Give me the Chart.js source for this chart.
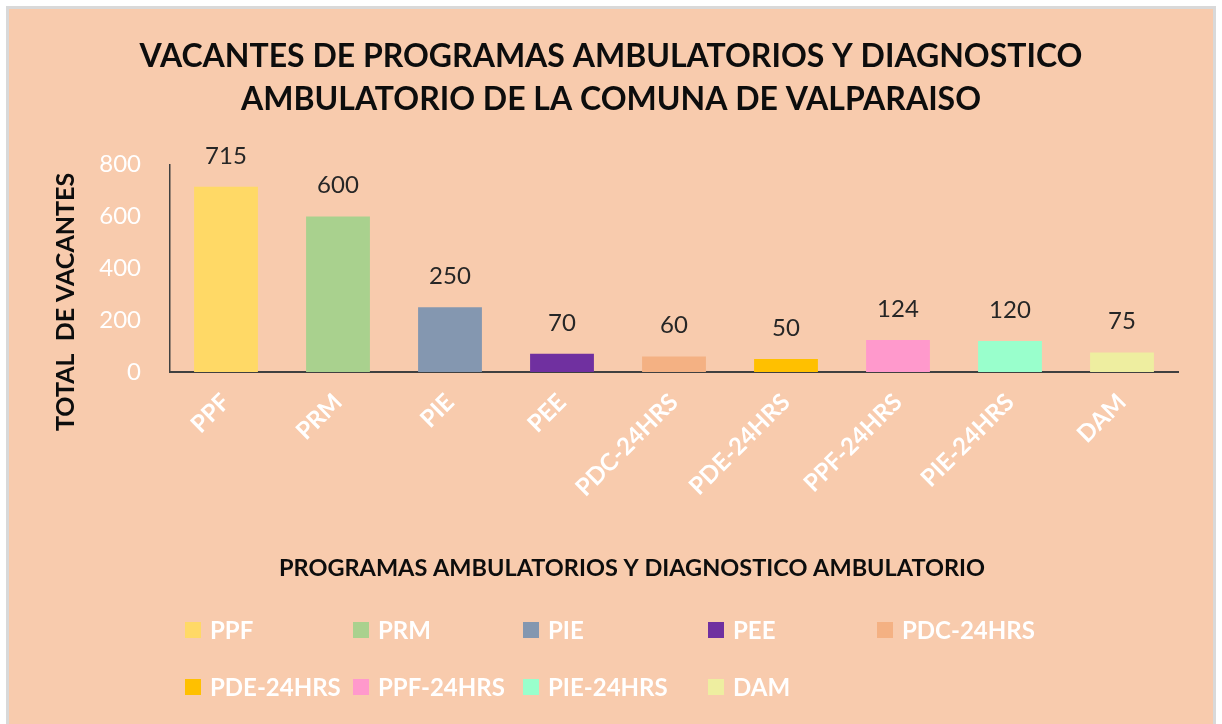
<!DOCTYPE html>
<html>
<head>
<meta charset="utf-8">
<script src="https://cdn.jsdelivr.net/npm/chart.js@4/dist/chart.umd.min.js"></script>
<style>
  body { margin: 0; background: #fff; }
  #frame {
    position: absolute; left: 6px; top: 6px; width: 1204px; height: 730px;
    background: #F8CBAD; border: 3px solid #D9D9D9;
  }
  #wrap { position: absolute; left: 0; top: 0; width: 1222px; height: 724px; }
</style>
</head>
<body>
<div id="frame"></div>
<div id="wrap"><canvas id="chartCanvas" width="1222" height="724"></canvas></div>
<script>
const categories = ['PPF', 'PRM', 'PIE', 'PEE', 'PDC-24HRS', 'PDE-24HRS', 'PPF-24HRS', 'PIE-24HRS', 'DAM'];
const vacantes = [715, 600, 250, 70, 60, 50, 124, 120, 75];
const barColors = ['#FFD966', '#A9D18E', '#8497B0', '#7030A0', '#F4B183', '#FFC000', '#FF99CC', '#99FFCC', '#EEEEA0'];
const yTicks = [0, 200, 400, 600, 800];
const legendCols = [185, 353, 523, 708, 877];

Chart.defaults.font.family = 'Lato';

// values above the bars
const valueLabels = {
  id: 'valueLabels',
  afterDatasetsDraw(chart) {
    const ctx = chart.ctx;
    const meta = chart.getDatasetMeta(0);
    ctx.save();
    ctx.font = '24px Lato';
    ctx.fillStyle = '#262626';
    ctx.textAlign = 'center';
    ctx.textBaseline = 'middle';
    meta.data.forEach((bar, i) => {
      ctx.fillText(String(chart.data.datasets[0].data[i]), bar.x, bar.y - 31);
    });
    ctx.restore();
  }
};

// axis titles + legend grid
const extras = {
  id: 'extras',
  afterDraw(chart) {
    const ctx = chart.ctx;
    ctx.save();
    ctx.fillStyle = '#0D0D0D';
    ctx.textAlign = 'center';
    ctx.textBaseline = 'middle';
    ctx.font = 'bold 25px Lato';
    ctx.translate(66, 302);
    ctx.rotate(-Math.PI / 2);
    ctx.fillText('TOTAL  DE VACANTES', 0, 0);
    ctx.restore();

    ctx.save();
    ctx.fillStyle = '#0D0D0D';
    ctx.textAlign = 'center';
    ctx.textBaseline = 'middle';
    ctx.font = 'bold 23.5px Lato';
    ctx.fillText('PROGRAMAS AMBULATORIOS Y DIAGNOSTICO AMBULATORIO', 632, 568);

    const colors = chart.data.datasets[0].backgroundColor;
    ctx.textAlign = 'left';
    ctx.font = 'bold 24px Lato';
    chart.data.labels.forEach((lab, i) => {
      const col = i % 5, row = Math.floor(i / 5);
      const x = legendCols[col];
      const y = 630 + row * 57;
      ctx.fillStyle = colors[i];
      ctx.fillRect(x, y - 8, 16, 16);
      ctx.fillStyle = '#FFFFFF';
      ctx.fillText(lab, x + 25, y + 1);
    });
    ctx.restore();
  }
};

new Chart(document.getElementById('chartCanvas').getContext('2d'), {
  type: 'bar',
  data: {
    labels: categories,
    datasets: [{
      label: 'Vacantes',
      data: vacantes,
      backgroundColor: barColors,
      categoryPercentage: 1,
      barPercentage: 0.57
    }]
  },
  options: {
    responsive: false,
    animation: false,
    layout: { padding: { left: 44, right: 44, top: 0, bottom: 0 } },
    plugins: {
      legend: { display: false },
      tooltip: { enabled: false },
      title: {
        display: true,
        text: ['VACANTES DE PROGRAMAS AMBULATORIOS Y DIAGNOSTICO', 'AMBULATORIO DE LA COMUNA DE VALPARAISO'],
        color: '#0D0D0D',
        font: { size: 32, weight: 'bold', lineHeight: 1.34 },
        padding: { top: 35, bottom: 44 }
      }
    },
    scales: {
      x: {
        grid: { display: false, drawTicks: false },
        border: { display: true, color: '#404040', width: 2 },
        ticks: {
          color: '#FFFFFF',
          font: { size: 24, weight: 'bold' },
          maxRotation: 45,
          minRotation: 45,
          padding: 16
        },
        afterFit(scale) { scale.height = 352; }
      },
      y: {
        min: 0,
        max: 800,
        grid: { display: false, drawTicks: false },
        border: { display: true, color: '#404040', width: 1.5 },
        afterBuildTicks(scale) { scale.ticks = yTicks.map(v => ({ value: v })); },
        ticks: {
          color: '#FFFFFF',
          font: { size: 24 },
          padding: 29
        },
        afterFit(scale) { scale.width = 126; }
      }
    }
  },
  plugins: [valueLabels, extras]
});
</script>
</body>
</html>
